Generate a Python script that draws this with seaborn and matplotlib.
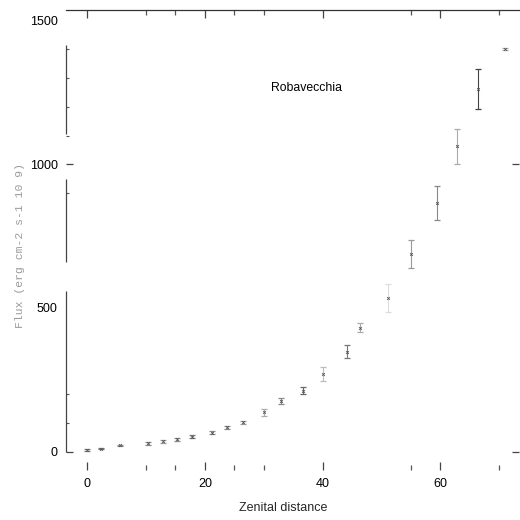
import numpy as np
import pandas as pd
import matplotlib
matplotlib.use("Agg")
import matplotlib.pyplot as plt
import seaborn as sns

# ---- data ----
zenith = [0.0, 2.4, 5.6, 10.4, 12.9, 15.3, 17.9, 21.3, 23.8, 26.5, 30.0,
          33.0, 36.7, 40.0, 44.2, 46.3, 51.2, 55.0, 59.5, 62.9, 66.5, 71.0]
flux = [6, 10, 21, 28, 35, 42, 52, 66, 84, 101, 136,
        176, 212, 270, 348, 431, 534, 688, 865, 1062, 1262, 1402]
flux_err = [3, 3, 3, 4, 4, 4, 5, 5, 6, 6, 12,
            10, 12, 25, 23, 16, 49, 49, 59, 61, 70, 3]
bar_shade = ['#777', '#777', '#888', '#888', '#999', '#888', '#777', '#888', '#888', '#999', '#aaa',
             '#888', '#666', '#bbb', '#777', '#aaa', '#ddd', '#999', '#888', '#aaa', '#444', '#aaa']

x_label_ticks = [0, 20, 40, 60]
x_minor_ticks = [10, 15, 25, 30, 55, 70]
y_label_ticks = [0, 500, 1000, 1500]
y_minor_ticks = [100, 200, 900, 1100, 1200, 1300, 1400]
spine_segments = [(0, 560), (660, 948), (1105, 1415)]

df = pd.DataFrame({"zenith": zenith, "flux": flux, "err": flux_err})

sns.set_theme(style="ticks")
plt.rcParams['font.family'] = ['Liberation Sans', 'DejaVu Sans']

fig = plt.figure(figsize=(5.2, 5.2), dpi=100)
ax = fig.add_axes([66/520, 1-451.5/520, (519-66)/520, (451.5-10)/520])

for xi, yi, ei, sh in zip(df.zenith, df.flux, df.err, bar_shade):
    _, caps, bars = ax.errorbar(xi, yi, yerr=ei, fmt='none', ecolor=sh,
                                elinewidth=0.8, capsize=2.0, capthick=0.9)
    for c in caps:
        c.set_color('#555')

sns.scatterplot(data=df, x="zenith", y="flux", marker='x', s=4,
                color='#555', linewidth=0.6, ax=ax, legend=False, zorder=3)

ax.set_xlim(-3.6, 73.4)
ax.set_ylim(0, 1537)

ax.set_xticks(x_label_ticks)
ax.set_xticklabels([str(v) for v in x_label_ticks])
ax.set_xticks(x_minor_ticks, minor=True)
ax.set_yticks(y_label_ticks)
ax.set_yticklabels([str(v) for v in y_label_ticks])
ax.set_yticks(y_minor_ticks, minor=True)

ax.tick_params(axis='x', which='major', direction='in', top=True, bottom=True,
               length=6, width=0.9, color='#444', labelsize=9, pad=6, labelcolor='black')
ax.tick_params(axis='x', which='minor', direction='in', top=True, bottom=True,
               length=3.5, width=0.9, color='#555')
ax.tick_params(axis='y', which='major', direction='in', left=True, right=True,
               length=5, width=0.9, color='#444', labelsize=9, pad=6, labelcolor='black')
ax.tick_params(axis='y', which='minor', direction='in', left=True, right=False,
               length=2.5, width=0.8, color='#555')

for i, t in enumerate(ax.xaxis.get_major_ticks()):
    if x_label_ticks[i] in (40, 60):
        t.tick1line.set_visible(False)
        t.tick2line.set_visible(False)
for i, t in enumerate(ax.yaxis.get_major_ticks()):
    if y_label_ticks[i] in (500, 1500):
        t.tick1line.set_visible(False)
        t.tick2line.set_visible(False)

ax.spines['bottom'].set_position(('outward', 13.3))
ax.spines['bottom'].set_visible(False)
ax.spines['right'].set_visible(False)
ax.spines['left'].set_visible(False)
ax.spines['top'].set_linewidth(0.9)
ax.spines['top'].set_color('#333')

trans = ax.get_yaxis_transform()
for lo, hi in spine_segments:
    ax.vlines(0, lo, hi, transform=trans, colors='#444', linewidth=0.9, clip_on=False)

ax.set_xlabel("")
ax.set_ylabel("")
ax.text(31.2, 1265, "Robavecchia", ha='left', va='center', fontsize=8.8, color='black')

fig.text(283/520, 1-508/520, "Zenital distance", ha='center', va='center', fontsize=9)
fig.text(20/520, 1-245/520, "Flux (erg cm-2 s-1 10 9)", rotation=90, ha='center', va='center',
         fontsize=8.2, color='#999', family=['Liberation Mono', 'DejaVu Sans Mono'])

fig.savefig("out.png", dpi=100)
